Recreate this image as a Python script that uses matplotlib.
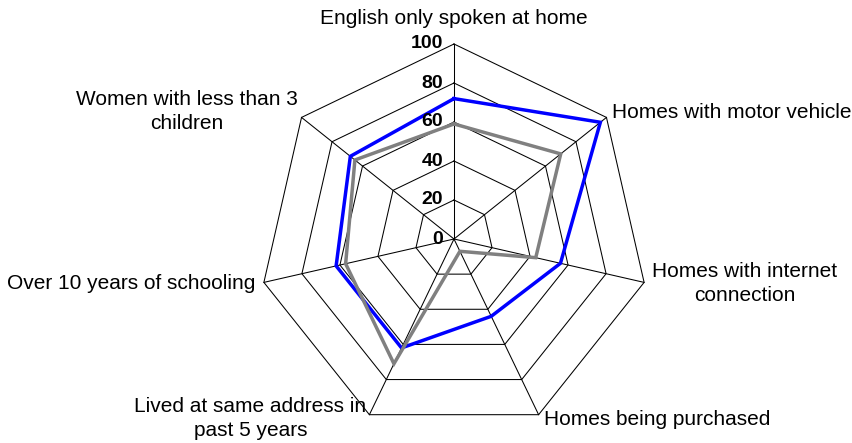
import numpy as np
import matplotlib
matplotlib.use("Agg")
from matplotlib import pyplot as plt

plt.rcParams['font.family'] = ['Liberation Sans', 'DejaVu Sans']

categories = ["English only spoken at home", "Homes with motor vehicle",
              "Homes with internet\nconnection", "Homes being purchased",
              "Lived at same address in\npast 5 years", "Over 10 years of schooling",
              "Women with less than 3\nchildren"]
blue_vals = [72, 96, 56, 44, 62, 62, 68]
gray_vals = [59, 70, 43, 7, 71, 57, 65]
ticks = [0, 20, 40, 60, 80, 100]

n = len(categories)
theta = np.arange(n) * 2 * np.pi / n  # clockwise from top

def xy(vals):
    v = np.asarray(vals, dtype=float)
    x = v * np.sin(theta)
    y = v * np.cos(theta)
    return np.append(x, x[0]), np.append(y, y[0])

fig = plt.figure(figsize=(8.52, 4.43), dpi=100)
ax = fig.add_axes([0, 0, 1, 1])
scale = 1.95  # pixels per unit
cx, cy = 454, 239
ax.set_xlim(-cx / scale, (852 - cx) / scale)
ax.set_ylim(-(443 - cy) / scale, cy / scale)
ax.axis("off")

# grid rings
for t in ticks[1:]:
    rx, ry = xy([t] * n)
    ax.plot(rx, ry, color="black", lw=0.75, zorder=1)
# spokes
for th in theta:
    ax.plot([0, 100 * np.sin(th)], [0, 100 * np.cos(th)], color="black", lw=0.75, zorder=1)

bx, by = xy(blue_vals)
ax.plot(bx, by, color="#0000FF", lw=2.5, zorder=3, solid_joinstyle="miter")
gx, gy = xy(gray_vals)
ax.plot(gx, gy, color="#808080", lw=2.5, zorder=4, solid_joinstyle="miter")

# radial tick labels
for t in ticks:
    ax.annotate(str(t), (0, t), xytext=(-8, 0), textcoords="offset points",
                ha="right", va="center", fontsize=14, fontweight="bold")

# category labels: (dx, dy in px, ha)
label_pos = [(0, 26, "center"), (6, 5, "left"), (8, -1, "left"), (5, -5, "left"),
             (-3, -4, "right"), (-9, -1, "right"), (-4, 6, "right")]
for i, lab in enumerate(categories):
    dx, dy, ha = label_pos[i]
    px, py = 100 * np.sin(theta[i]), 100 * np.cos(theta[i])
    ax.annotate(lab, (px, py), xytext=(dx / 1.389, dy / 1.389), textcoords="offset points",
                ha=ha, va="center", multialignment="center", fontsize=15,
                linespacing=1.3)

fig.savefig("out.png", dpi=100)
